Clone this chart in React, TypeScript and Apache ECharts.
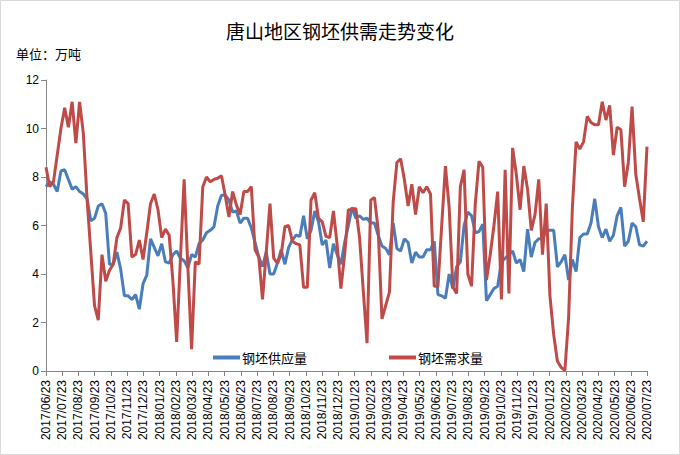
import React, { useEffect, useRef } from "react";
import * as echarts from "echarts";

const TITLE = "唐山地区钢坯供需走势变化";
const UNIT = "单位：万吨";
const seriesNames = ["钢坯供应量", "钢坯需求量"];

const monthLabels = [
  "2017/06/23", "2017/07/23", "2017/08/23", "2017/09/23", "2017/10/23", "2017/11/23", "2017/12/23",
  "2018/01/23", "2018/02/23", "2018/03/23", "2018/04/23", "2018/05/23", "2018/06/23", "2018/07/23",
  "2018/08/23", "2018/09/23", "2018/10/23", "2018/11/23", "2018/12/23",
  "2019/01/23", "2019/02/23", "2019/03/23", "2019/04/23", "2019/05/23", "2019/06/23", "2019/07/23",
  "2019/08/23", "2019/09/23", "2019/10/23", "2019/11/23", "2019/12/23",
  "2020/01/23", "2020/02/23", "2020/03/23", "2020/04/23", "2020/05/23", "2020/06/23", "2020/07/23",
];

const yTicks = { min: 0, max: 12, interval: 2 };

// weekly supply (钢坯供应量)
const supply = [
  7.6, 7.8, 7.7, 7.4, 8.25, 8.3, 7.9, 7.5, 7.6, 7.4,
  7.3, 7.1, 6.2, 6.3, 6.8, 6.9, 6.5, 4.4, 4.4, 4.9,
  4.2, 3.1, 3.1, 2.95, 3.15, 2.55, 3.6, 3.95, 5.45, 5.1,
  4.75, 5.25, 4.5, 4.45, 4.8, 4.95, 4.65, 4.55, 4.25, 4.8,
  4.7, 5.25, 5.4, 5.7, 5.8, 5.95, 6.8, 7.25, 7.25, 7.05,
  6.55, 6.6, 6.1, 6.3, 6.3, 5.9, 5.3, 4.7, 4.3, 4.9,
  4.0, 4.0, 4.45, 5.0, 4.4, 5.1, 5.4, 5.6, 5.55, 6.4,
  5.45, 5.8, 6.6, 6.15, 5.2, 5.4, 4.25, 5.25, 4.8, 4.4,
  5.3, 6.0, 6.75, 6.3, 6.4, 6.25, 6.3, 6.1, 6.1, 5.6,
  5.15, 5.05, 4.8, 6.1, 5.05, 4.95, 5.45, 5.3, 4.45, 4.9,
  4.7, 4.7, 5.0, 5.0, 5.35, 3.15, 3.1, 3.0, 4.0, 3.4,
  4.3, 4.5, 6.0, 6.55, 6.4, 5.7, 5.75, 6.05, 2.9, 3.15,
  3.4, 3.5, 4.5, 4.65, 4.8, 4.95, 4.45, 4.6, 4.1, 5.85,
  4.7, 5.3, 5.45, 5.45, 5.8, 5.8, 5.8, 4.3, 4.5, 4.8,
  3.75, 4.6, 4.1, 5.5, 5.65, 5.65, 6.1, 7.1, 5.95, 5.5,
  5.85, 5.35, 5.6, 6.4, 6.75, 5.15, 5.35, 6.1, 5.95, 5.2,
  5.15, 5.35,
];

// weekly demand (钢坯需求量)
const demand = [
  8.4, 7.6, 7.8, 8.9, 10.0, 10.85, 10.05, 11.1, 9.4, 11.1,
  9.8, 7.1, 4.9, 2.7, 2.1, 4.8, 3.7, 4.15, 4.4, 5.5,
  5.9, 7.05, 6.9, 4.7, 4.8, 5.4, 4.6, 5.7, 6.9, 7.3,
  6.65, 5.5, 5.85, 5.6, 3.7, 1.2, 4.6, 7.9, 4.3, 0.9,
  4.5, 4.4, 7.6, 8.0, 7.8, 7.9, 7.95, 8.05, 7.25, 6.35,
  7.4, 6.85, 6.45, 7.4, 7.4, 7.6, 5.0, 4.7, 2.95, 4.9,
  6.9, 4.65, 4.45, 4.8, 5.95, 6.0, 5.35, 5.25, 5.2, 3.45,
  3.45, 7.05, 7.35, 6.3, 6.15, 5.55, 5.5, 6.6, 5.2, 3.4,
  4.8, 6.65, 6.65, 6.7, 5.5, 3.3, 1.15, 7.05, 7.15, 5.8,
  2.15, 2.7, 3.25, 6.95, 8.6, 8.75, 7.9, 6.8, 7.7, 6.45,
  7.6, 7.35, 7.6, 7.3, 3.5, 3.5, 6.0, 8.45, 6.75, 3.45,
  3.2, 7.6, 8.3, 4.0, 3.5, 6.9, 8.65, 8.4, 3.75, 4.8,
  6.0, 7.4, 2.95, 8.3, 3.2, 9.2, 8.1, 6.65, 8.45, 7.5,
  5.8, 6.45, 7.9, 4.8, 6.9, 3.1, 1.5, 0.4, 0.15, 0.02,
  2.2, 6.7, 9.45, 9.15, 9.45, 10.5, 10.25, 10.15, 10.15, 11.1,
  10.35, 10.95, 8.9, 10.05, 9.95, 7.6, 8.6, 10.9, 8.1, 7.1,
  6.15, 9.25,
];

const weekCategories = supply.map((_, i) => `W${i + 1}`);

const CJK = "'Noto Sans CJK SC', 'Noto Sans', sans-serif";
const LATIN = "'Liberation Sans', Arial, sans-serif";

export default function App() {
  const ref = useRef<HTMLDivElement>(null);

  useEffect(() => {
    document.body.style.margin = "0";
    if (!ref.current) return;
    const chart = echarts.init(ref.current, null, { renderer: "svg" });
    const axisColor = "#868686";
    chart.setOption({
      animation: false,
      backgroundColor: "#ffffff",
      title: {
        text: TITLE,
        left: "center",
        top: 16,
        textStyle: { fontSize: 19, fontWeight: "normal", color: "#000", fontFamily: CJK },
      },
      graphic: [
        {
          type: "rect",
          silent: true,
          shape: { x: 0.5, y: 0.5, width: 679, height: 454 },
          style: { fill: "none", stroke: "#d9d9d9", lineWidth: 1 },
        },
        {
          type: "text",
          left: 16,
          top: 47,
          style: { text: UNIT, fontSize: 13, fill: "#000", fontFamily: CJK },
        },
      ],
      legend: {
        data: seriesNames,
        left: 213,
        top: 351,
        padding: 0,
        icon: "rect",
        itemWidth: 27,
        itemHeight: 4,
        itemGap: 82,
        textStyle: { fontSize: 13, color: "#000", fontFamily: CJK, padding: [0, 0, 0, -3] },
      },
      grid: { left: 46, right: 33, top: 80, bottom: 84 },
      xAxis: [
        {
          type: "category",
          data: weekCategories,
          boundaryGap: false,
          show: false,
        },
        {
          type: "value",
          min: 0,
          max: monthLabels.length - 1,
          interval: 1,
          position: "bottom",
          axisLine: { show: true, lineStyle: { color: axisColor, width: 1 } },
          axisTick: { show: true, length: 5, lineStyle: { color: axisColor } },
          splitLine: { show: false },
          axisLabel: {
            rotate: 90,
            margin: 9,
            fontSize: 12,
            color: "#000",
            fontFamily: LATIN,
            formatter: (v: number) => monthLabels[Math.round(v)] ?? "",
          },
        },
      ],
      yAxis: {
        type: "value",
        min: yTicks.min,
        max: yTicks.max,
        interval: yTicks.interval,
        axisLine: { show: true, lineStyle: { color: axisColor, width: 1 } },
        axisTick: { show: true, length: 5, lineStyle: { color: axisColor } },
        splitLine: { show: false },
        axisLabel: { fontSize: 12, color: "#000", margin: 7, fontFamily: LATIN },
      },
      series: [
        {
          name: seriesNames[0],
          type: "line",
          xAxisIndex: 0,
          data: supply,
          symbol: "none",
          lineStyle: { color: "#4A7EBB", width: 3 },
          itemStyle: { color: "#4A7EBB" },
        },
        {
          name: seriesNames[1],
          type: "line",
          xAxisIndex: 0,
          data: demand,
          symbol: "none",
          lineStyle: { color: "#BE4B48", width: 3 },
          itemStyle: { color: "#BE4B48" },
        },
      ],
    });
    return () => chart.dispose();
  }, []);

  return <div ref={ref} style={{ width: 680, height: 455 }} />;
}
